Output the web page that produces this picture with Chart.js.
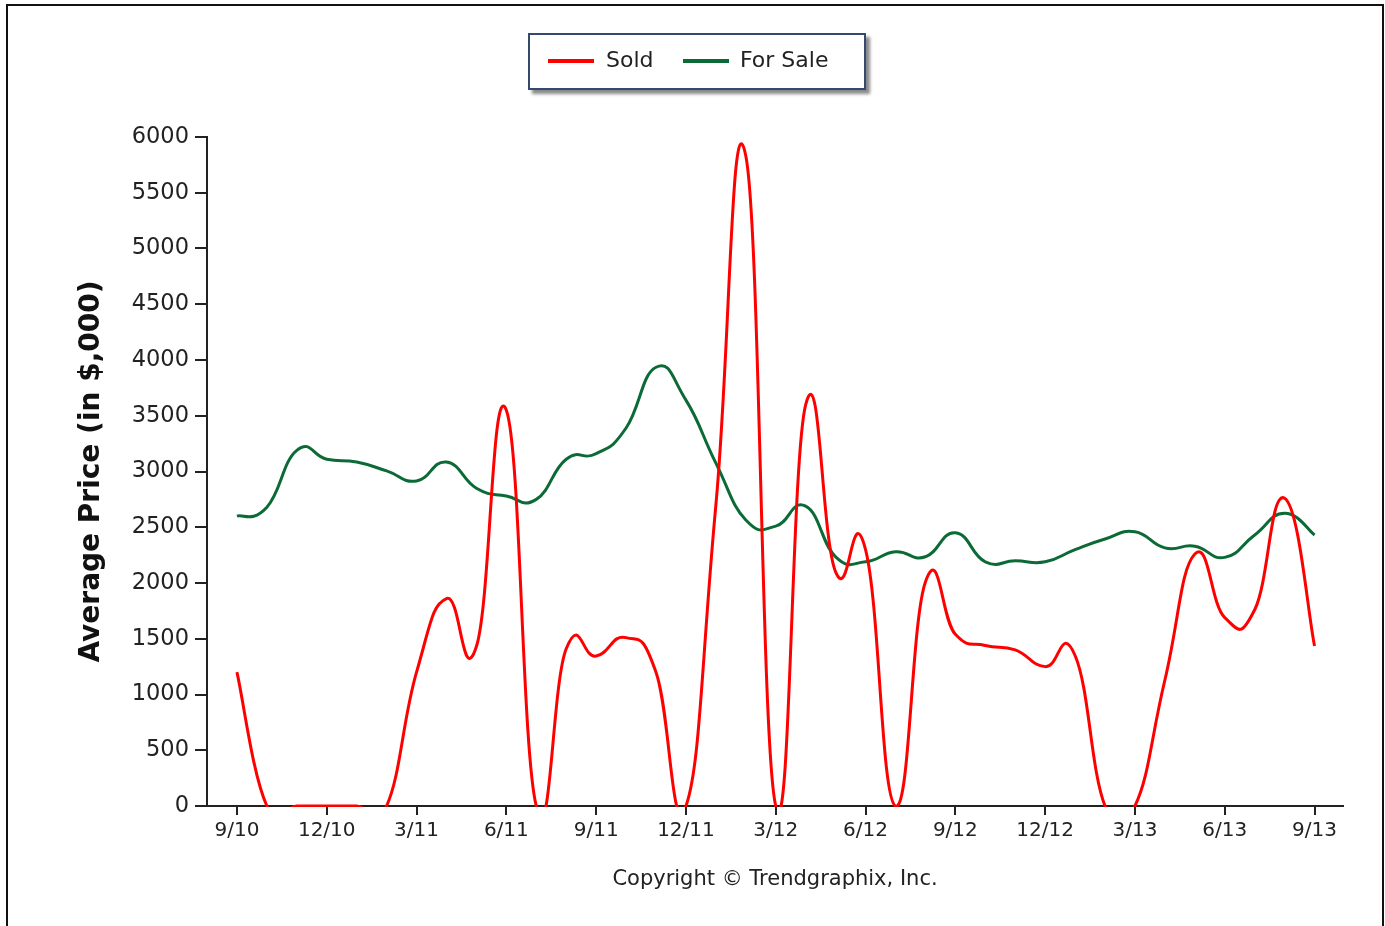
<!DOCTYPE html>
<html>
<head>
<meta charset="utf-8">
<script src="https://cdn.jsdelivr.net/npm/chart.js@4/dist/chart.umd.min.js"></script>
<style>
  html, body { margin: 0; padding: 0; background: #fff; }
  body { width: 1385px; height: 926px; position: relative; overflow: hidden; }
  #frame { position: absolute; left: 6px; top: 4px; width: 1378px; height: 940px; border: 2px solid #111; box-sizing: border-box; }
  #wrap { position: absolute; left: 0; top: 0; width: 1385px; height: 926px; }
  #legend {
    position: absolute; left: 528px; top: 33px; width: 338px; height: 57px;
    border: 2px solid #34496e; box-sizing: border-box; background: #fff;
    box-shadow: 4px 4px 3px #8a8a8a;
    font-family: "DejaVu Sans", sans-serif; font-size: 22px; color: #222;
  }
  #legend span.sw { position: absolute; top: 24px; width: 46px; height: 4px; }
  #legend span.tx { position: absolute; top: 12px; }
</style>
</head>
<body>
<div id="frame"></div>
<div id="wrap"><canvas id="chart" width="1385" height="926"></canvas></div>
<div id="legend">
  <span class="sw" style="left:18px;background:#ff0000"></span><span class="tx" style="left:76px">Sold</span>
  <span class="sw" style="left:153px;background:#0b6a36"></span><span class="tx" style="left:210px">For Sale</span>
</div>
<script>
// monthly, 9/10 .. 9/13
const months = ['9/10','10/10','11/10','12/10','1/11','2/11','3/11','4/11','5/11','6/11','7/11','8/11','9/11',
  '10/11','11/11','12/11','1/12','2/12','3/12','4/12','5/12','6/12','7/12','8/12','9/12',
  '10/12','11/12','12/12','1/13','2/13','3/13','4/13','5/13','6/13','7/13','8/13','9/13'];
const tickMonths = ['9/10','12/10','3/11','6/11','9/11','12/11','3/12','6/12','9/12','12/12','3/13','6/13','9/13'];
const sold = [1200,0,0,0,0,0,1200,1860,1430,3550,0,1410,1345,1510,1200,0,2700,5830,0,3600,
  2100,2300,0,2010,1540,1440,1400,1250,1350,0,0,1130,2260,1690,1760,2760,1435];
const forSale = [2600,2680,3190,3110,3085,3005,2915,3085,2850,2780,2750,3110,3160,3390,3935,3640,3075,2565,2510,2690,
  2235,2190,2280,2235,2450,2190,2200,2190,2300,2395,2460,2315,2330,2230,2430,2625,2430];
const yTicks = [0,500,1000,1500,2000,2500,3000,3500,4000,4500,5000,5500,6000];

const toPts = arr => arr.map((v, i) => ({ x: i, y: v }));
const axisColor = '#222';

// uniform cardinal spline (like the original charting tool) instead of Chart.js distance weighting
const cardinal = {
  id: 'cardinal',
  beforeDatasetsDraw(chart) {
    const k = 0.24;
    chart.data.datasets.forEach((ds, di) => {
      const meta = chart.getDatasetMeta(di);
      meta.dataset.updateControlPoints(chart.chartArea, meta.iScale.axis);
      const p = meta.data;
      p.forEach((pt, i) => {
        const a = p[i - 1] || pt, b = p[i + 1] || pt;
        const dx = (b.x - a.x) * k, dy = (b.y - a.y) * k;
        pt.cp1x = pt.x - dx; pt.cp1y = pt.y - dy;
        pt.cp2x = pt.x + dx; pt.cp2y = pt.y + dy;
      });
    });
  }
};

new Chart(document.getElementById('chart'), {
  type: 'line',
  data: {
    datasets: [
      { label: 'Sold', data: toPts(sold), borderColor: '#ff0000', borderWidth: 3, tension: 0.4,
        pointRadius: 0, fill: false, clip: { left: 5, right: 5, top: 5, bottom: 1 } },
      { label: 'For Sale', data: toPts(forSale), borderColor: '#0b6a36', borderWidth: 3, tension: 0.4,
        pointRadius: 0, fill: false }
    ]
  },
  options: {
    responsive: false,
    animation: false,
    events: [],
    layout: { padding: { left: 60, top: 137, right: 42, bottom: 0 } },
    elements: { line: { capBezierPoints: false } },
    plugins: { legend: { display: false }, tooltip: { enabled: false } },
    scales: {
      x: {
        type: 'linear', min: -1, max: 36.95,
        afterBuildTicks: s => { s.ticks = tickMonths.map(m => ({ value: months.indexOf(m) })); },
        afterFit: s => { s.height = 926 - 806; },
        ticks: { callback: v => months[v], color: '#222', font: { family: 'DejaVu Sans', size: 20 },
          padding: 4, maxRotation: 0, autoSkip: false },
        grid: { drawOnChartArea: false, drawTicks: true, tickLength: 9, color: axisColor, lineWidth: 2 },
        border: { color: axisColor, width: 2 },
        title: { display: true, text: 'Copyright © Trendgraphix, Inc.', color: '#222',
          font: { family: 'DejaVu Sans', size: 21 }, padding: { top: 0, bottom: 34 } }
      },
      y: {
        min: 0, max: 6000,
        afterBuildTicks: s => { s.ticks = yTicks.map(v => ({ value: v })); },
        afterFit: s => { s.width = 207 - 60; },
        ticks: { callback: v => String(v), color: '#222', font: { family: 'DejaVu Sans', size: 22.5 }, padding: 6 },
        grid: { drawOnChartArea: false, drawTicks: true, tickLength: 12, color: axisColor, lineWidth: 2 },
        border: { color: axisColor, width: 2 },
        title: { display: true, text: 'Average Price (in $,000)', color: '#111',
          font: { family: 'DejaVu Sans', size: 28, weight: 'bold' }, padding: { top: 15, bottom: 0 } }
      }
    }
  },
  plugins: [cardinal]
});
</script>
</body>
</html>
